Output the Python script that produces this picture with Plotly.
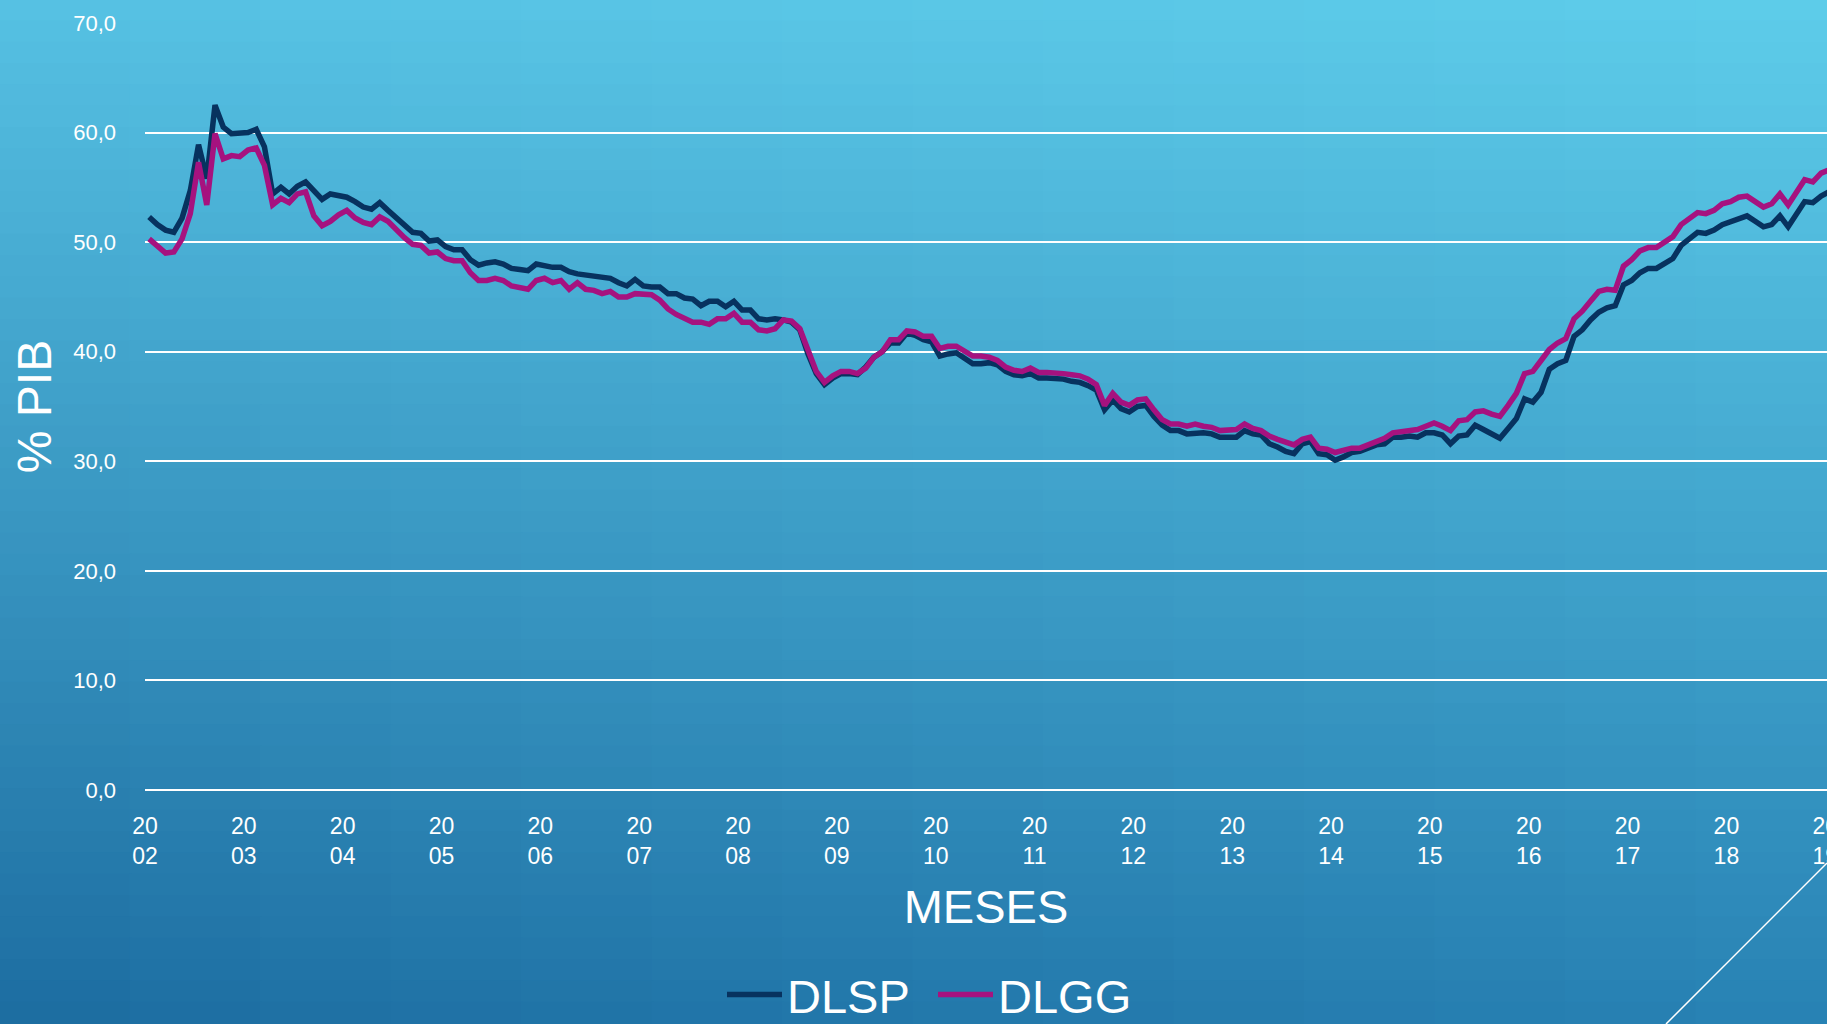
import plotly.graph_objects as go

# ---------------- data (monthly, Jan 2002 .. Jan 2019) ----------------
YEARS = [str(y) for y in range(2002, 2020)]
SERIES_NAMES = ["DLSP", "DLGG"]

DLSP = [
    52.3, 51.6, 51.1, 50.9, 52.2, 54.7, 58.9, 55.8, 62.5, 60.5, 59.9, 60.0,
    60.0, 60.3, 58.7, 54.4, 55.0, 54.4, 55.1, 55.5, 54.7, 53.9, 54.4, 54.3,
    54.1, 53.7, 53.2, 53.0, 53.6, 52.9, 52.2, 51.5, 50.9, 50.8, 50.1, 50.2,
    49.6, 49.3, 49.3, 48.4, 47.9, 48.1, 48.2, 48.0, 47.6, 47.5, 47.4, 48.0,
    47.8, 47.7, 47.7, 47.3, 47.1, 47.0, 46.9, 46.7, 46.7, 46.3, 46.0, 46.6,
    46.0, 45.9, 45.9, 45.3, 45.3, 44.9, 44.8, 44.2, 44.6, 44.6, 44.1, 44.6,
    43.8, 43.8, 43.0, 42.9, 43.0, 42.9, 42.7, 42.0, 39.8, 38.0, 37.0, 37.6,
    38.0, 38.0, 37.9, 38.6, 39.5, 40.0, 40.8, 40.8, 41.7, 41.5, 41.1, 40.9,
    39.6, 39.8, 39.9, 39.4, 38.9, 38.9, 39.0, 38.8, 38.2, 37.9, 37.8, 38.0,
    37.6, 37.6, 37.6, 37.5, 37.3, 37.2, 36.9, 36.5, 34.7, 35.6, 34.8, 34.5,
    35.0, 35.1, 34.1, 33.3, 32.8, 32.8, 32.5, 32.6, 32.6, 32.5, 32.2, 32.2,
    32.2, 32.8, 32.5, 32.4, 31.6, 31.3, 30.9, 30.7, 31.6, 31.8, 30.7, 30.6,
    30.1, 30.4, 30.8, 30.9, 31.2, 31.5, 31.6, 32.2, 32.2, 32.3, 32.2, 32.6,
    32.6, 32.4, 31.6, 32.3, 32.4, 33.3, 32.9, 32.5, 32.1, 33.0, 33.9, 35.7,
    35.4, 36.3, 38.4, 38.9, 39.2, 41.4, 42.0, 42.9, 43.6, 44.0, 44.2, 46.1,
    46.5, 47.2, 47.6, 47.6, 48.1, 48.5, 49.7, 50.3, 50.9, 50.8, 51.1, 51.6,
    51.9, 52.1, 52.4, 51.9, 51.4, 51.6, 52.4, 51.4, 52.6, 53.7, 53.6, 54.2,
    54.6,
]

DLGG = [
    50.3, 49.6, 49.0, 49.1, 50.3, 52.6, 57.3, 53.4, 59.9, 57.6, 57.9, 57.8,
    58.4, 58.6, 57.0, 53.4, 54.0, 53.6, 54.4, 54.6, 52.4, 51.5, 51.9, 52.5,
    52.9, 52.2, 51.8, 51.6, 52.3, 51.9, 51.1, 50.4, 49.8, 49.7, 49.0, 49.1,
    48.5, 48.3, 48.3, 47.2, 46.5, 46.5, 46.7, 46.5, 46.0, 45.8, 45.7, 46.5,
    46.7, 46.3, 46.5, 45.7, 46.3, 45.7, 45.6, 45.3, 45.5, 45.0, 45.0, 45.3,
    45.3, 45.2, 44.7, 43.9, 43.4, 43.0, 42.7, 42.7, 42.5, 43.0, 43.0, 43.5,
    42.7, 42.7, 42.0, 41.9, 42.1, 42.9, 42.8, 42.1, 40.0, 38.2, 37.2, 37.8,
    38.2, 38.2, 38.0, 38.5, 39.5, 40.0, 41.1, 41.1, 41.9, 41.8, 41.4, 41.4,
    40.3, 40.5, 40.5, 40.0, 39.6, 39.6, 39.5, 39.2, 38.6, 38.3, 38.2, 38.5,
    38.1, 38.1, 38.1, 38.0, 37.9, 37.8, 37.5, 37.0, 35.1, 36.2, 35.4, 35.1,
    35.6, 35.7, 34.7, 33.8, 33.4, 33.4, 33.2, 33.4, 33.2, 33.1, 32.8, 32.8,
    32.9, 33.4, 33.0, 32.8, 32.3, 32.0, 31.7, 31.5, 32.0, 32.2, 31.2, 31.1,
    30.8, 31.0, 31.2, 31.2, 31.5, 31.9, 32.1, 32.6, 32.7, 32.9, 32.9, 33.2,
    33.5, 33.2, 32.8, 33.7, 33.8, 34.5, 34.6, 34.3, 34.1, 35.1, 36.2, 38.0,
    38.2, 39.2, 40.2, 40.8, 41.2, 43.0, 43.7, 44.6, 45.5, 45.7, 45.6, 47.8,
    48.4, 49.2, 49.5, 49.5, 50.0, 50.5, 51.6, 52.2, 52.7, 52.6, 52.9, 53.5,
    53.7, 54.1, 54.2, 53.7, 53.2, 53.5, 54.4, 53.4, 54.6, 55.7, 55.5, 56.3,
    56.6,
]

MONTH_INDEX = list(range(len(DLSP)))

# ---------------- geometry helpers (pixel -> paper) ----------------
W, H = 1827, 1024
ML, MR, MT, MB = 145, 0, 23, 234
PW = W - ML - MR
PH = H - MT - MB


def px(x):
    return (x - ML) / PW


def py(y):
    return (H - MB - y) / PH


# ---------------- background gradient as shapes ----------------
TL = (86, 193, 227)
TR = (94, 205, 234)
BL = (28, 108, 160)
BR = (40, 130, 180)


def mix(a, b, t):
    return tuple(a[i] + (b[i] - a[i]) * t for i in range(3))


shapes = []
NC, NR = 14, 48
for r in range(NR):
    ty = (r + 0.5) / NR
    y0 = r * H / NR
    y1 = (r + 1) * H / NR
    for c in range(NC):
        tx = (c + 0.5) / NC
        top = mix(TL, TR, tx)
        bot = mix(BL, BR, tx)
        col = mix(top, bot, ty)
        x0 = c * W / NC
        x1 = (c + 1) * W / NC
        shapes.append(dict(
            type="rect", xref="paper", yref="paper",
            x0=px(x0 - 1), x1=px(x1 + 1), y0=py(y1 + 1), y1=py(y0 - 1),
            fillcolor="rgb(%d,%d,%d)" % tuple(int(round(v)) for v in col),
            line=dict(width=0), layer="below",
        ))

# decorative diagonal line bottom-right
shapes.append(dict(
    type="line", xref="paper", yref="paper",
    x0=px(1827), y0=py(863), x1=px(1666), y1=py(1024),
    line=dict(color="white", width=1.5), layer="above",
))

# ---------------- figure ----------------
FONT = "Liberation Sans, Arial, sans-serif"
fig = go.Figure()
fig.add_trace(go.Scatter(
    x=MONTH_INDEX, y=DLSP, name=SERIES_NAMES[0], mode="lines",
    line=dict(color="#07325F", width=5.5),
))
fig.add_trace(go.Scatter(
    x=MONTH_INDEX, y=DLGG, name=SERIES_NAMES[1], mode="lines",
    line=dict(color="#A6127F", width=5.5),
))

tickvals = [12 * k - 0.5 for k in range(len(YEARS))]
ticktext = [y[:2] + "<br>" + y[2:] for y in YEARS]

fig.update_layout(
    width=W, height=H,
    margin=dict(l=ML, r=MR, t=MT, b=MB, autoexpand=False),
    paper_bgcolor=("rgb(%d,%d,%d)" % BL),
    plot_bgcolor="rgba(0,0,0,0)",
    separators=",.",
    font=dict(family=FONT, color="white"),
    shapes=shapes,
    showlegend=True,
    legend=dict(
        orientation="h", x=px(722), xanchor="left", y=py(995), yanchor="middle",
        font=dict(size=47, color="white", family=FONT),
        bgcolor="rgba(0,0,0,0)", itemwidth=55, traceorder="normal",
        entrywidth=141, entrywidthmode="pixels",
    ),
    xaxis=dict(
        range=[-0.5, (W - 149) / 8.237],
        tickmode="array", tickvals=tickvals, ticktext=ticktext,
        showgrid=False, zeroline=False, showline=False, ticks="",
        tickfont=dict(size=23, color="white", family=FONT),
        ticklabelstandoff=20, ticklabeloverflow="allow",
        title=dict(text="MESES", font=dict(size=47, color="white", family=FONT), standoff=22),
        fixedrange=True,
    ),
    yaxis=dict(
        range=[0, 70], tickmode="array", tickvals=[0, 10, 20, 30, 40, 50, 60, 70],
        tickformat=".1f",
        showgrid=True, gridcolor="white", gridwidth=1.8,
        zeroline=True, zerolinecolor="white", zerolinewidth=1.8,
        showline=False, ticks="",
        tickfont=dict(size=22, color="white", family=FONT),
        ticklabelstandoff=28,
        title=dict(text="% PIB", font=dict(size=48, color="white", family=FONT), standoff=6),
        fixedrange=True,
    ),
)

fig.write_html(
    "out.html",
    config={"displayModeBar": False},
    post_script="document.body.style.margin='0px';document.body.style.overflow='hidden';",
)
